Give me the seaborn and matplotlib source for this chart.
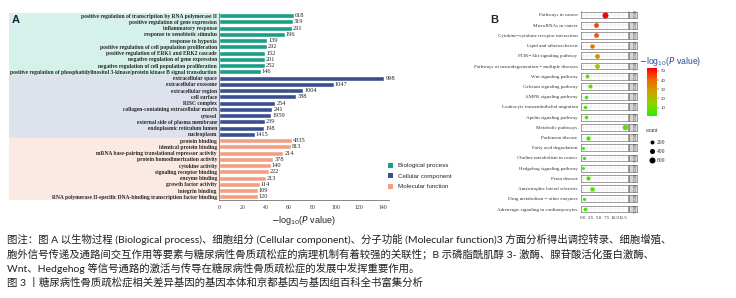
import pandas as pd
import matplotlib
matplotlib.use("Agg")
import matplotlib.pyplot as plt
import matplotlib.transforms as mtransforms
import seaborn as sns
from matplotlib.patches import Patch, Rectangle
from matplotlib.lines import Line2D
from matplotlib.colors import LinearSegmentedColormap, Normalize
from matplotlib.cm import ScalarMappable

# --- Panel A: GO enrichment ---
bp_terms = [
    "positive regulation of transcription by RNA polymerase II",
    "positive regulation of gene expression",
    "inflammatory response",
    "response to xenobiotic stimulus",
    "response to hypoxia",
    "positive regulation of cell population proliferation",
    "positive regulation of ERK1 and ERK2 cascade",
    "negative regulation of gene expression",
    "negative regulation of cell population proliferation",
    "positive regulation of phosphatidylinositol 3-kinase/protein kinase B signal transduction",
]
bp_logp = [64.3, 63.5, 62.3, 56.4, 41.3, 41.3, 39.6, 39.6, 39.3, 35.9]
bp_counts = [618, 319, 291, 196, 139, 292, 152, 201, 252, 146]

cc_terms = [
    "extracellular space",
    "extracellular exosome",
    "extracellular region",
    "cell surface",
    "RISC complex",
    "collagen-containing extracellular matrix",
    "cytosol",
    "external side of plasma membrane",
    "endoplasmic reticulum lumen",
    "nucleoplasm",
]
cc_logp = [141.5, 98.3, 72.2, 66.2, 48.3, 45.7, 44.9, 39.2, 38.6, 30.6]
cc_counts = [998, 1047, 1004, 388, 254, 241, 1959, 239, 198, 1415]

mf_terms = [
    "protein binding",
    "identical protein binding",
    "mRNA base-pairing translational repressor activity",
    "protein homodimerization activity",
    "cytokine activity",
    "signaling receptor binding",
    "enzyme binding",
    "growth factor activity",
    "integrin binding",
    "RNA polymerase II-specific DNA-binding transcription factor binding",
]
mf_logp = [62.5, 61.8, 55.1, 46.6, 44.3, 42.6, 40.0, 35.1, 33.1, 33.1]
mf_counts = [4335, 813, 214, 378, 140, 222, 213, 114, 109, 120]

go_categories = ["Biological process", "Cellular component", "Molecular function"]
go_colors = {"Biological process": "#1a9e86",
             "Cellular component": "#3a4f8f",
             "Molecular function": "#f29e83"}
band_colors = {"Biological process": "#d6f0ea",
               "Cellular component": "#dde2ec",
               "Molecular function": "#fbe9e3"}

go_df = pd.DataFrame({
    "term": bp_terms + cc_terms + mf_terms,
    "logp": bp_logp + cc_logp + mf_logp,
    "count": bp_counts + cc_counts + mf_counts,
    "category": [go_categories[0]] * len(bp_terms)
                + [go_categories[1]] * len(cc_terms)
                + [go_categories[2]] * len(mf_terms),
})

# --- Panel B: KEGG enrichment ---
kegg_terms = [
    "Pathways in cancer",
    "MicroRNAs in cancer",
    "Cytokine\u2212cytokine receptor interaction",
    "Lipid and atherosclerosis",
    "PI3K\u2212Akt signaling pathway",
    "Pathways of neurodegeneration \u2212 multiple diseases",
    "Wnt signaling pathway",
    "Calcium signaling pathway",
    "AMPK signaling pathway",
    "Leukocyte transendothelial migration",
    "Apelin signaling pathway",
    "Metabolic pathways",
    "Parkinson disease",
    "Fatty acid degradation",
    "Choline metabolism in cancer",
    "Hedgehog signaling pathway",
    "Prion disease",
    "Amyotrophic lateral sclerosis",
    "Drug metabolism \u2212 other enzymes",
    "Adrenergic signaling in cardiomyocytes",
]
kegg_x = [6.8, 4.0, 3.9, 2.8, 4.2, 4.4, 1.3, 2.2, 0.8, 0.6,
          0.9, 12.9, 1.7, 0.1, 0.3, 0.1, 1.7, 2.7, 0.2, 0.7]
kegg_logp = [53, 45, 43, 39, 31, 18, 6, 7, 5, 5,
             5, 8, 6, 3, 4, 3, 6, 7, 4, 5]
kegg_count = [600, 330, 320, 280, 340, 350, 170, 220, 130, 120,
              140, 500, 230, 60, 110, 60, 230, 300, 100, 160]

kegg_df = pd.DataFrame({"term": kegg_terms, "x": kegg_x,
                        "logp": kegg_logp, "count": kegg_count})

caption_lines = [
    "图注：图 A 以生物过程 (Biological process)、细胞组分 (Cellular component)、分子功能 (Molecular function)3 方面分析得出调控转录、细胞增殖、",
    "胞外信号传递及通路间交互作用等要素与糖尿病性骨质疏松症的病理机制有着较强的关联性；B 示磷脂酰肌醇 3- 激酶、腺苷酸活化蛋白激酶、",
    "Wnt、Hedgehog 等信号通路的激活与传导在糖尿病性骨质疏松症的发展中发挥重要作用。",
    "图 3 丨糖尿病性骨质疏松症相关差异基因的基因本体和京都基因与基因组百科全书富集分析",
]

W, H = 736, 298
serif = ["Liberation Serif", "DejaVu Serif"]
sans = ["Liberation Sans", "DejaVu Sans"]
cjk = ["Lato", "Noto Sans CJK SC", "DejaVu Sans"]

sns.set_style("white")
plt.rcParams["font.family"] = serif

fig = plt.figure(figsize=(W / 100, H / 100), dpi=100)

# ---------- Panel A ----------
ax_left, ax_right = 219, 388.5
axA = fig.add_axes([ax_left / W, 1 - 200 / H, (ax_right - ax_left) / W, 187.5 / H])
sns.barplot(data=go_df, x="logp", y="term", hue="category", palette=go_colors,
            hue_order=go_categories, dodge=False, width=0.78, saturation=1,
            legend=False, ax=axA)
axA.set_xlim(0, 145)
axA.set_ylim(len(go_df) - 0.5, -0.5)

# background bands behind labels
trans = mtransforms.blended_transform_factory(axA.transAxes, axA.transData)
band_x0 = (9 - ax_left) / (ax_right - ax_left)
for cat in go_categories:
    idx = go_df.index[go_df["category"] == cat]
    axA.add_patch(Rectangle((band_x0, idx.min() - 0.5), -band_x0, len(idx),
                            transform=trans, facecolor=band_colors[cat],
                            edgecolor="none", clip_on=False, zorder=-5))

for i, row in go_df.iterrows():
    axA.text(row["logp"] + 0.8, i, str(row["count"]), va="center", ha="left",
             fontsize=4.6, family=serif, clip_on=False)

axA.set_ylabel("")
axA.set_xlabel(r"$-$log$_{10}$($\it{P}$ value)", fontsize=6.5, family=sans, labelpad=3)
axA.set_xticks(range(0, 141, 20))
axA.tick_params(axis="x", labelsize=4.2, length=2, width=0.5, pad=1.5, colors="#333333")
axA.tick_params(axis="y", length=0, pad=1.5)
for lbl in axA.get_yticklabels():
    lbl.set_fontsize(4.0)
    lbl.set_fontweight("bold")
for s in ["top", "right"]:
    axA.spines[s].set_visible(False)
for s in ["left", "bottom"]:
    axA.spines[s].set_linewidth(0.5)
    axA.spines[s].set_color("#555555")

handles = [Patch(facecolor=go_colors[c], edgecolor="none") for c in go_categories]
fig.legend(handles, go_categories, loc="upper left",
           bbox_to_anchor=(382 / W, 1 - 157 / H), frameon=False,
           prop={"family": sans, "size": 4.5}, handlelength=0.9,
           handleheight=0.9, labelspacing=0.75, handletextpad=0.8)

fig.text(12 / W, 1 - 20 / H, "A", fontsize=8, fontweight="bold", family=sans,
         color="#1d2340", va="center")

# ---------- Panel B ----------
cmap = LinearSegmentedColormap.from_list(
    "gr", ["#22ee00", "#8fd400", "#c9a400", "#ee6a00", "#ff0000"])
hue_norm = Normalize(1, 53)
size_range = (3, 20)
size_norm = (0, 650)

gs = fig.add_gridspec(len(kegg_df), 2, left=581 / W, right=637 / W,
                      top=1 - 11.5 / H, bottom=1 - 212.5 / H,
                      width_ratios=[47, 8], hspace=0.5, wspace=0.04)
for i in range(len(kegg_df)):
    axp = fig.add_subplot(gs[i, 0])
    sns.scatterplot(data=kegg_df.iloc[[i]], x="x", y="term", hue="logp",
                    hue_norm=hue_norm, palette=cmap, size="count",
                    sizes=size_range, size_norm=size_norm, linewidth=0,
                    legend=False, ax=axp, zorder=3)
    axp.collections[0].set_clip_on(False)
    axp.set_xlim(-0.6, 13.9)
    axp.set_ylim(-0.5, 0.5)
    axp.set_xticks([0, 2.5, 5, 7.5, 10, 12.5])
    axp.set_xticks([1.25, 3.75, 6.25, 8.75, 11.25], minor=True)
    axp.grid(True, which="both", axis="x", color="#e6e6e6", linewidth=0.35)
    axp.axhline(0, color="#e6e6e6", linewidth=0.35, zorder=1)
    axp.set_xlabel("")
    axp.set_ylabel("")
    axp.tick_params(axis="y", labelsize=3.6, length=1.5, width=0.4, pad=1,
                    colors="#333333")
    axp.tick_params(axis="x", which="both", length=0)
    if i == len(kegg_df) - 1:
        axp.set_xticklabels(["0.0", "2.5", "5.0", "7.5", "10.0", "12.5"])
        axp.tick_params(axis="x", labelsize=3.6, length=1.2, width=0.4, pad=1,
                        colors="#333333")
    else:
        axp.set_xticklabels([])
    for s in axp.spines.values():
        s.set_linewidth(0.4)
        s.set_color("#555555")

    axs = fig.add_subplot(gs[i, 1])
    axs.set_facecolor("#d6d6d6")
    axs.set_xticks([])
    axs.set_yticks([])
    for s in axs.spines.values():
        s.set_linewidth(0.4)
        s.set_color("#555555")
    axs.text(0.5, 0.5, "KEGG", rotation=-90, fontsize=2.3, ha="center",
             va="center", transform=axs.transAxes, color="#333333")

fig.text(490 / W, 1 - 20 / H, "B", fontsize=8, fontweight="bold", family=sans,
         va="center")

# colour bar
cax = fig.add_axes([647 / W, 1 - 116 / H, 10 / W, 48 / H])
cb = fig.colorbar(ScalarMappable(norm=hue_norm, cmap=cmap), cax=cax)
cb.set_ticks([10, 20, 30, 40, 50])
cb.outline.set_visible(False)
cax.tick_params(labelsize=3.5, length=1.5, width=0.3, pad=1, colors="#333333")
fig.text(639 / W, 1 - 62 / H, r"$-$log$_{10}$($\it{P}$ value)", fontsize=6.2,
         family=sans, color="#2b4c9b", va="center")

# size legend
fig.text(646 / W, 1 - 131 / H, "count", fontsize=4, family=serif,
         color="#333333", va="center")
leg_counts = [200, 400, 600]
size_handles = []
for c in leg_counts:
    s = size_range[0] + (c - size_norm[0]) / (size_norm[1] - size_norm[0]) * (size_range[1] - size_range[0])
    size_handles.append(Line2D([], [], marker="o", linestyle="", color="black",
                               markersize=s ** 0.5, markeredgewidth=0))
fig.legend(size_handles, [str(c) for c in leg_counts], loc="upper left",
           bbox_to_anchor=(645 / W, 1 - 136 / H), frameon=False,
           prop={"family": serif, "size": 4}, handlelength=1.0,
           labelspacing=0.75, handletextpad=0.4, borderpad=0.2)

# ---------- caption ----------
for line, y in zip(caption_lines, [239, 254, 268, 283]):
    fig.text(7 / W, 1 - y / H, line, fontsize=7.5, family=cjk,
             color="#231f20", va="center")

fig.savefig("out.png", dpi=100)
